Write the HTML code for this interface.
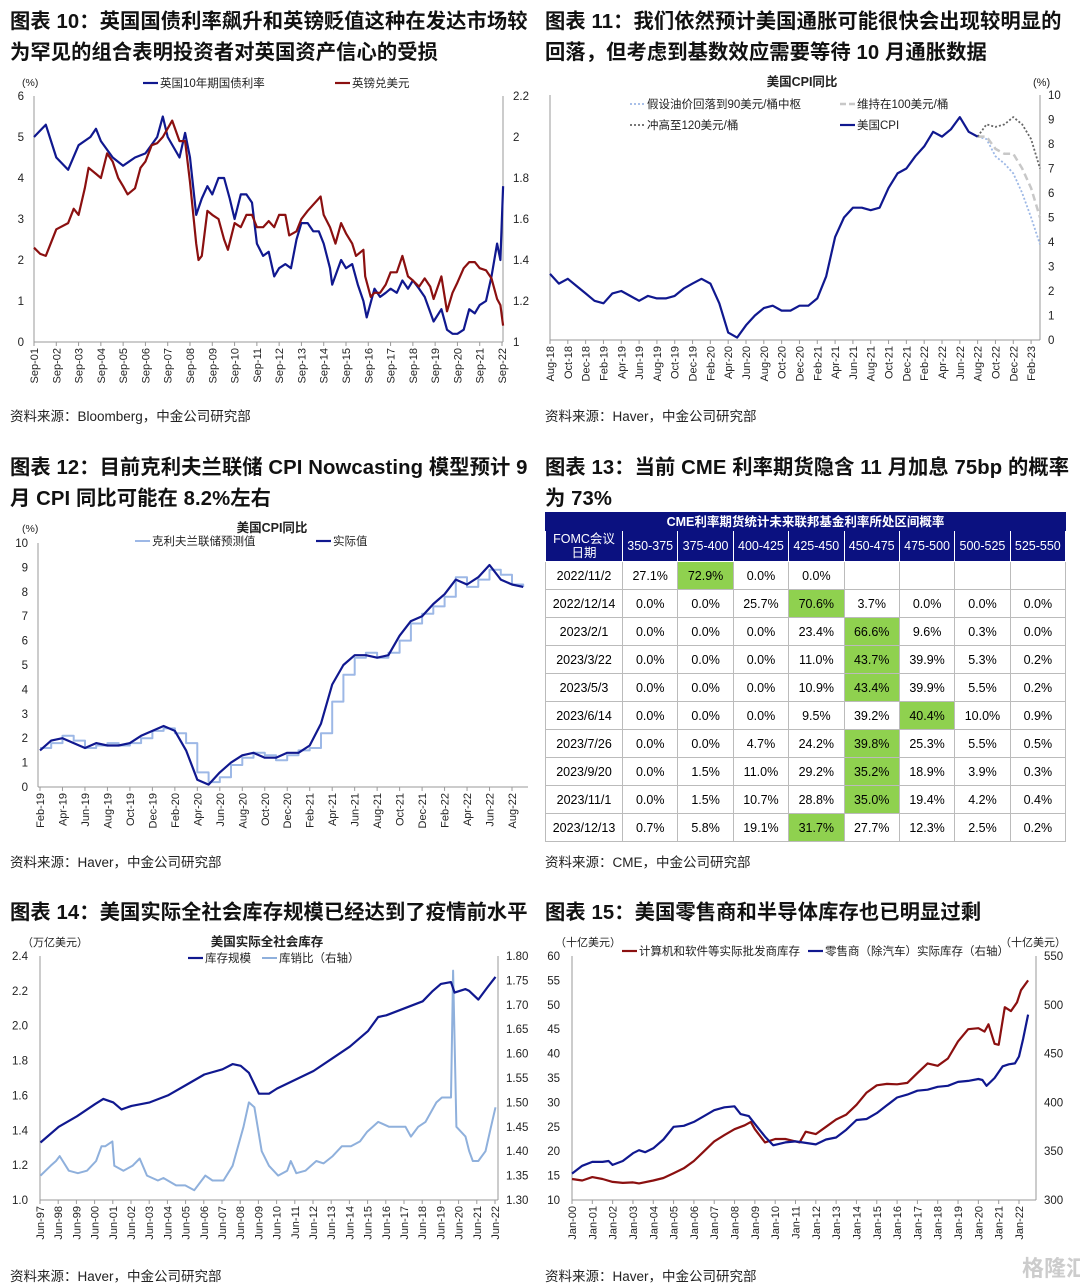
<!DOCTYPE html>
<html><head><meta charset="utf-8">
<style>
body{margin:0;background:#fff;width:1080px;height:1288px;overflow:hidden;position:relative;font-family:"Liberation Sans","Noto Sans CJK SC",sans-serif;}
.t{position:absolute;font-weight:bold;font-size:20.3px;color:#111;white-space:nowrap;letter-spacing:0.1px}
.src{position:absolute;font-size:13.5px;color:#222;white-space:nowrap}
svg{position:absolute;left:0;top:0}
svg text{font-family:"Liberation Sans","Noto Sans CJK SC",sans-serif;fill:#222}
table{position:absolute;left:545px;top:512px;width:521px;border-collapse:collapse;font-size:12.5px;text-align:center}
td,th{border:1px solid #bbb;padding:0;height:27px;line-height:14px}
th{background:#0b1180;color:#fff;font-weight:normal;border-color:#fff}
th.h0{height:17px;font-weight:bold;font-size:12.5px;border:1px solid #0b1180}
td.g{background:#8fd14f}
</style></head><body>
<div class="t" style="left:10px;top:4px">图表 10：英国国债利率飙升和英镑贬值这种在发达市场较</div>
<div class="t" style="left:10px;top:35px">为罕见的组合表明投资者对英国资产信心的受损</div>
<div class="t" style="left:545px;top:4px">图表 11：我们依然预计美国通胀可能很快会出现较明显的</div>
<div class="t" style="left:545px;top:35px">回落，但考虑到基数效应需要等待 10 月通胀数据</div>
<div class="t" style="left:10px;top:450px">图表 12：目前克利夫兰联储 CPI Nowcasting 模型预计 9</div>
<div class="t" style="left:10px;top:481px">月 CPI 同比可能在 8.2%左右</div>
<div class="t" style="left:545px;top:450px">图表 13：当前 CME 利率期货隐含 11 月加息 75bp 的概率</div>
<div class="t" style="left:545px;top:481px">为 73%</div>
<div class="t" style="left:10px;top:895px">图表 14：美国实际全社会库存规模已经达到了疫情前水平</div>
<div class="t" style="left:545px;top:895px">图表 15：美国零售商和半导体库存也已明显过剩</div>
<div class="src" style="left:10px;top:405px">资料来源：Bloomberg，中金公司研究部</div>
<div class="src" style="left:545px;top:405px">资料来源：Haver，中金公司研究部</div>
<div class="src" style="left:10px;top:851px">资料来源：Haver，中金公司研究部</div>
<div class="src" style="left:545px;top:851px">资料来源：CME，中金公司研究部</div>
<div class="src" style="left:10px;top:1265px">资料来源：Haver，中金公司研究部</div>
<div class="src" style="left:545px;top:1265px">资料来源：Haver，中金公司研究部</div>

<table>
<tr><th class="h0" colspan="9">CME利率期货统计未来联邦基金利率所处区间概率</th></tr>
<tr><th style="height:30px;width:76px">FOMC会议<br>日期</th><th>350-375</th><th>375-400</th><th>400-425</th><th>425-450</th><th>450-475</th><th>475-500</th><th>500-525</th><th>525-550</th></tr>
<tr><td>2022/11/2</td><td>27.1%</td><td class="g">72.9%</td><td>0.0%</td><td>0.0%</td><td></td><td></td><td></td><td></td></tr>
<tr><td>2022/12/14</td><td>0.0%</td><td>0.0%</td><td>25.7%</td><td class="g">70.6%</td><td>3.7%</td><td>0.0%</td><td>0.0%</td><td>0.0%</td></tr>
<tr><td>2023/2/1</td><td>0.0%</td><td>0.0%</td><td>0.0%</td><td>23.4%</td><td class="g">66.6%</td><td>9.6%</td><td>0.3%</td><td>0.0%</td></tr>
<tr><td>2023/3/22</td><td>0.0%</td><td>0.0%</td><td>0.0%</td><td>11.0%</td><td class="g">43.7%</td><td>39.9%</td><td>5.3%</td><td>0.2%</td></tr>
<tr><td>2023/5/3</td><td>0.0%</td><td>0.0%</td><td>0.0%</td><td>10.9%</td><td class="g">43.4%</td><td>39.9%</td><td>5.5%</td><td>0.2%</td></tr>
<tr><td>2023/6/14</td><td>0.0%</td><td>0.0%</td><td>0.0%</td><td>9.5%</td><td>39.2%</td><td class="g">40.4%</td><td>10.0%</td><td>0.9%</td></tr>
<tr><td>2023/7/26</td><td>0.0%</td><td>0.0%</td><td>4.7%</td><td>24.2%</td><td class="g">39.8%</td><td>25.3%</td><td>5.5%</td><td>0.5%</td></tr>
<tr><td>2023/9/20</td><td>0.0%</td><td>1.5%</td><td>11.0%</td><td>29.2%</td><td class="g">35.2%</td><td>18.9%</td><td>3.9%</td><td>0.3%</td></tr>
<tr><td>2023/11/1</td><td>0.0%</td><td>1.5%</td><td>10.7%</td><td>28.8%</td><td class="g">35.0%</td><td>19.4%</td><td>4.2%</td><td>0.4%</td></tr>
<tr><td>2023/12/13</td><td>0.7%</td><td>5.8%</td><td>19.1%</td><td class="g">31.7%</td><td>27.7%</td><td>12.3%</td><td>2.5%</td><td>0.2%</td></tr>
</table>

<svg id="s" width="1080" height="1288"></svg>

<script>
// ---------- Fig10 data ----------
const ukT=[2001.67,2002.2,2002.67,2003.2,2003.67,2004.2,2004.45,2004.67,2005.2,2005.67,2006.2,2006.67,2007.2,2007.45,2007.67,2008.2,2008.45,2008.67,2008.95,2009.2,2009.45,2009.67,2009.95,2010.2,2010.45,2010.67,2010.95,2011.2,2011.45,2011.67,2011.95,2012.2,2012.45,2012.67,2012.95,2013.2,2013.45,2013.67,2013.95,2014.2,2014.45,2014.67,2014.95,2015.05,2015.45,2015.67,2015.95,2016.2,2016.45,2016.6,2016.95,2017.2,2017.45,2017.67,2017.95,2018.2,2018.45,2018.67,2018.95,2019.2,2019.6,2019.95,2020.2,2020.45,2020.67,2020.95,2021.2,2021.45,2021.67,2021.95,2022.2,2022.45,2022.6,2022.72];
const ukYield=[5.0,5.3,4.5,4.2,4.8,5.0,5.2,4.9,4.5,4.3,4.5,4.6,5.0,5.5,5.0,4.5,5.1,4.5,3.1,3.5,3.8,3.6,4.0,4.0,3.5,3.0,3.6,3.6,3.4,2.4,2.1,2.2,1.6,1.8,1.9,1.8,2.5,2.9,2.9,2.7,2.7,2.4,1.8,1.4,2.0,1.8,1.9,1.4,1.0,0.6,1.3,1.1,1.2,1.3,1.2,1.5,1.3,1.5,1.3,1.1,0.5,0.8,0.3,0.2,0.2,0.3,0.8,0.7,0.9,1.0,1.6,2.4,2.0,3.8];
const gbpT=[2001.67,2001.95,2002.2,2002.67,2003.2,2003.45,2003.67,2003.95,2004.12,2004.45,2004.67,2004.95,2005.2,2005.45,2005.67,2005.87,2006.2,2006.45,2006.67,2006.95,2007.2,2007.45,2007.87,2008.2,2008.45,2008.67,2008.95,2009.05,2009.2,2009.45,2009.67,2009.95,2010.2,2010.37,2010.67,2010.95,2011.2,2011.45,2011.67,2011.95,2012.2,2012.45,2012.67,2012.95,2013.12,2013.45,2013.67,2013.95,2014.53,2014.67,2014.95,2015.2,2015.45,2015.67,2015.95,2016.12,2016.45,2016.53,2016.78,2016.95,2017.2,2017.45,2017.67,2017.95,2018.2,2018.45,2018.67,2018.95,2019.2,2019.45,2019.6,2019.95,2020.2,2020.45,2020.67,2020.95,2021.2,2021.45,2021.67,2021.95,2022.2,2022.45,2022.6,2022.72];
const gbpUsd=[1.46,1.43,1.42,1.55,1.58,1.65,1.62,1.75,1.85,1.82,1.80,1.92,1.88,1.80,1.76,1.72,1.75,1.85,1.88,1.96,1.97,2.0,2.08,1.98,1.98,1.78,1.48,1.40,1.42,1.64,1.62,1.60,1.50,1.45,1.58,1.56,1.62,1.62,1.56,1.56,1.59,1.56,1.62,1.62,1.52,1.54,1.60,1.64,1.71,1.62,1.56,1.48,1.58,1.53,1.48,1.42,1.45,1.32,1.22,1.24,1.24,1.28,1.34,1.34,1.42,1.32,1.30,1.27,1.31,1.27,1.21,1.32,1.15,1.24,1.29,1.36,1.39,1.39,1.36,1.35,1.31,1.21,1.18,1.08];
const fig10Left=[0,1,2,3,4,5,6];
const fig10Right=["1","1.2","1.4","1.6","1.8","2","2.2"];

// ---------- Fig11 data (monthly from Aug-18) ----------
const cpiActual=[2.7,2.3,2.5,2.2,1.9,1.6,1.5,1.9,2.0,1.8,1.6,1.8,1.7,1.7,1.8,2.1,2.3,2.5,2.3,1.5,0.3,0.1,0.6,1.0,1.3,1.4,1.2,1.2,1.4,1.4,1.7,2.6,4.2,5.0,5.4,5.4,5.3,5.4,6.2,6.8,7.0,7.5,7.9,8.5,8.3,8.6,9.1,8.5,8.3];
const scen90=[8.3,8.2,7.5,7.2,6.8,6.0,5.0,3.9];
const scen100=[8.3,8.3,7.8,7.6,7.6,7.0,6.2,5.0];
const scen120=[8.3,8.8,8.7,8.8,9.1,8.8,8.2,7.0];
const fig11Months=["Aug-18","Oct-18","Dec-18","Feb-19","Apr-19","Jun-19","Aug-19","Oct-19","Dec-19","Feb-20","Apr-20","Jun-20","Aug-20","Oct-20","Dec-20","Feb-21","Apr-21","Jun-21","Aug-21","Oct-21","Dec-21","Feb-22","Apr-22","Jun-22","Aug-22","Oct-22","Dec-22","Feb-23"];

// ---------- Fig12 data (monthly from Feb-19) ----------
const cpiReal12=[1.5,1.9,2.0,1.8,1.6,1.8,1.7,1.7,1.8,2.1,2.3,2.5,2.3,1.5,0.3,0.1,0.6,1.0,1.3,1.4,1.2,1.2,1.4,1.4,1.7,2.6,4.2,5.0,5.4,5.4,5.3,5.4,6.2,6.8,7.0,7.5,7.9,8.5,8.3,8.6,9.1,8.5,8.3,8.2];
const cpiNowcast=[1.6,1.8,2.1,1.9,1.6,1.7,1.8,1.7,1.8,2.0,2.3,2.4,2.2,1.8,0.6,0.2,0.4,0.9,1.2,1.4,1.3,1.1,1.3,1.5,1.6,2.2,3.5,4.6,5.3,5.5,5.3,5.5,6.0,6.7,7.1,7.4,7.8,8.6,8.2,8.5,8.9,8.7,8.3,8.2];
const fig12Months=["Feb-19","Apr-19","Jun-19","Aug-19","Oct-19","Dec-19","Feb-20","Apr-20","Jun-20","Aug-20","Oct-20","Dec-20","Feb-21","Apr-21","Jun-21","Aug-21","Oct-21","Dec-21","Feb-22","Apr-22","Jun-22","Aug-22"];

// ---------- Fig14 data ----------
const invT=[1997.45,1998.45,1999.45,2000.45,2000.9,2001.45,2001.9,2002.45,2003.45,2004.45,2005.45,2006.45,2007.45,2008.0,2008.45,2008.9,2009.45,2010.0,2010.45,2011.45,2012.45,2013.45,2014.45,2015.45,2016.0,2016.45,2017.45,2018.45,2019.0,2019.45,2020.0,2020.2,2020.8,2021.0,2021.5,2022.0,2022.45];
const invLevel=[1.33,1.42,1.48,1.55,1.58,1.56,1.52,1.54,1.56,1.60,1.66,1.72,1.75,1.78,1.77,1.73,1.61,1.61,1.64,1.69,1.74,1.81,1.88,1.97,2.05,2.06,2.10,2.14,2.20,2.24,2.25,2.19,2.21,2.20,2.15,2.22,2.28];
const ratioT=[1997.45,1998.0,1998.3,1998.5,1999.0,1999.5,2000.0,2000.5,2000.8,2001.0,2001.4,2001.5,2002.0,2002.5,2002.9,2003.3,2003.9,2004.2,2004.9,2005.4,2005.9,2006.5,2006.9,2007.5,2008.0,2008.6,2008.9,2009.2,2009.6,2010.0,2010.5,2011.0,2011.2,2011.5,2012.0,2012.6,2013.0,2013.5,2014.0,2014.5,2015.0,2015.4,2016.0,2016.6,2017.5,2017.8,2018.2,2018.6,2019.2,2019.5,2020.0,2020.12,2020.3,2020.8,2021.0,2021.2,2021.5,2021.9,2022.2,2022.45];
const invRatio=[1.35,1.37,1.38,1.39,1.36,1.355,1.36,1.38,1.41,1.41,1.42,1.37,1.36,1.37,1.385,1.35,1.34,1.345,1.33,1.33,1.32,1.35,1.34,1.34,1.37,1.45,1.50,1.49,1.40,1.37,1.35,1.36,1.38,1.355,1.36,1.38,1.375,1.39,1.41,1.41,1.42,1.44,1.46,1.45,1.45,1.43,1.45,1.46,1.50,1.51,1.51,1.77,1.45,1.43,1.40,1.38,1.38,1.40,1.45,1.49];
const fig14Left=["1.0","1.2","1.4","1.6","1.8","2.0","2.2","2.4"];
const fig14Right=["1.30","1.35","1.40","1.45","1.50","1.55","1.60","1.65","1.70","1.75","1.80"];

// ---------- Fig15 data ----------
const compT=[2000.0,2000.5,2001.0,2001.5,2002.0,2002.5,2003.0,2003.3,2004.0,2004.5,2005.0,2005.5,2006.0,2006.5,2007.0,2007.5,2008.0,2008.5,2008.8,2009.0,2009.5,2010.0,2010.5,2011.0,2011.2,2011.5,2012.0,2012.5,2013.0,2013.5,2014.0,2014.5,2015.0,2015.5,2016.0,2016.5,2017.0,2017.5,2018.0,2018.5,2019.0,2019.5,2020.0,2020.3,2020.5,2020.8,2021.0,2021.3,2021.6,2021.9,2022.1,2022.45];
const compInv=[14.3,14.0,14.7,14.3,13.7,13.5,13.6,13.4,14.0,14.5,15.5,16.5,18.0,20.0,22.0,23.3,24.5,25.3,26.0,24.5,21.8,22.5,22.5,22.0,21.8,24.0,23.5,25.0,26.5,27.5,29.5,32.0,33.5,33.8,33.7,34.0,36.0,38.0,37.5,39.0,42.5,45.0,45.2,44.5,46.0,42.0,41.8,49.5,48.7,50.5,53.0,55.0];
const retT=[2000.0,2000.5,2001.0,2001.5,2001.8,2002.0,2002.5,2003.0,2003.3,2003.6,2004.0,2004.5,2005.0,2005.5,2006.0,2006.5,2007.0,2007.5,2008.0,2008.3,2008.7,2009.0,2009.5,2009.9,2010.5,2011.0,2012.0,2012.5,2013.0,2013.5,2014.0,2014.5,2015.0,2015.5,2016.0,2016.5,2017.0,2017.5,2018.0,2018.5,2019.0,2019.5,2020.0,2020.2,2020.4,2020.8,2021.2,2021.5,2021.8,2022.0,2022.2,2022.45];
const retInv=[327,335,339,339,340,336,340,348,351,349,353,362,375,376,380,386,392,395,396,388,386,378,365,356,359,360,357,362,364,372,382,383,389,397,405,408,412,413,416,417,421,422,424,423,417,425,437,439,440,447,465,490];
const fig15Left=[10,15,20,25,30,35,40,45,50,55,60];
const fig15Right=[300,350,400,450,500,550];

// ---------- helpers ----------
const S=document.getElementById('s');
const NS='http://www.w3.org/2000/svg';
function el(tag,attrs,txt){const e=document.createElementNS(NS,tag);for(const k in attrs)e.setAttribute(k,attrs[k]);if(txt!==undefined)e.textContent=txt;S.appendChild(e);return e;}
function lin(d0,d1,r0,r1){return v=>r0+(v-d0)/(d1-d0)*(r1-r0);}
function pathD(xs,ys,fx,fy,step){let d='';for(let i=0;i<xs.length;i++){const X=fx(xs[i]).toFixed(1),Y=fy(ys[i]).toFixed(1);if(i===0)d+='M'+X+','+Y;else if(step){d+='H'+X+'V'+Y;}else d+='L'+X+','+Y;}return d;}
function addLine(name,xs,ys,fx,fy,stroke,w,dash,step){const p=el('path',{d:pathD(xs,ys,fx,fy,step),fill:'none',stroke:stroke,'stroke-width':w,'stroke-linejoin':'round'});if(dash)p.setAttribute('stroke-dasharray',dash);


return p;}
function axisFrame(x0,x1,y0,y1,right){el('line',{x1:x0,y1:y0,x2:x0,y2:y1,stroke:'#999','stroke-width':1});el('line',{x1:x0,y1:y1,x2:x1,y2:y1,stroke:'#999','stroke-width':1});if(right)el('line',{x1:x1,y1:y0,x2:x1,y2:y1,stroke:'#999','stroke-width':1});}
function xLabel(x,y,s){const t=el('text',{transform:'translate('+(x+4)+','+y+') rotate(-90)','text-anchor':'end','font-size':11},s);


el('line',{x1:x,y1:y-6,x2:x,y2:y-2,stroke:'#999'});}
function yLabel(x,y,s,anchor){const t=el('text',{x:x,y:y+4,'text-anchor':anchor,'font-size':11.5},s);

}
function legend(x,y,color,w,dash,label){const l=el('line',{x1:x,y1:y,x2:x+15,y2:y,stroke:color,'stroke-width':w});if(dash)l.setAttribute('stroke-dasharray',dash);


const t=el('text',{x:x+17,y:y+4,'font-size':11.5},label);

}
function plain(x,y,s,size,bold,anchor){const t=el('text',{x:x,y:y,'font-size':size||11.5,'font-weight':bold?'bold':'normal','text-anchor':anchor||'start'},s);

}

// ---------- Fig10 ----------
(function(){const x0=34,x1=502,yT=96,yB=342;
const fx=lin(2001.67,2022.67,x0,x1),fy=lin(0,6,yB,yT),fy2=lin(1,2.2,yB,yT);
axisFrame(x0,x1+1,yT,yB,true);
fig10Left.forEach(v=>yLabel(x0-10,fy(v),String(v),'end'));
fig10Right.forEach(v=>yLabel(x1+11,fy2(+v),v,'start'));
for(let y=2001;y<=2022;y++)xLabel(fx(y+0.67),yB+6,'Sep-'+String(y).slice(2));
addLine('uk-10y-yield-line',ukT,ukYield,fx,fy,'#10188f',2.2);
addLine('gbp-usd-line',gbpT,gbpUsd,fx,fy2,'#8b1010',2.2);
plain(22,86,'(%)',10.5);
legend(143,83,'#10188f',2.2,null,'英国10年期国债利率');
legend(335,83,'#8b1010',2.2,null,'英镑兑美元');})();

// ---------- Fig11 ----------
(function(){const x0=550,x1=1040,yT=95,yB=340;
const fx=lin(0,55,x0,x1),fy=lin(0,10,yB,yT);
axisFrame(x0,x1,yT,yB,true);
for(let v=0;v<=10;v++)yLabel(x1+8,fy(v),String(v),'start');
fig11Months.forEach((m,i)=>xLabel(fx(i*2),yB+6,m));
const idx=cpiActual.map((v,i)=>i);
const sIdx=scen90.map((v,i)=>i+48);
addLine('scenario-90-line',sIdx,scen90,fx,fy,'#9db8e6',1.8,'2,2');
addLine('scenario-100-line',sIdx,scen100,fx,fy,'#c8c8c8',2.5,'7,4');
addLine('scenario-120-line',sIdx,scen120,fx,fy,'#666',1.8,'2,2');
addLine('us-cpi-line',idx,cpiActual,fx,fy,'#10188f',2.2);
plain(802,86,'美国CPI同比',12.5,true,'middle');
plain(1033,86,'(%)',11);
legend(630,104,'#9db8e6',1.8,'2,2','假设油价回落到90美元/桶中枢');
legend(840,104,'#c8c8c8',2.5,'6,3','维持在100美元/桶');
legend(630,125,'#666',1.8,'2,2','冲高至120美元/桶');
legend(840,125,'#10188f',2.2,null,'美国CPI');})();

// ---------- Fig12 ----------
(function(){const x0=38,x1=528,yT=543,yB=787;
const fx=lin(0,42,40,512),fy=lin(0,10,yB,yT);
axisFrame(x0,x1,yT,yB,false);
for(let v=0;v<=10;v++)yLabel(28,fy(v),String(v),'end');
fig12Months.forEach((m,i)=>xLabel(fx(i*2),yB+6,m));
const idx=cpiReal12.map((v,i)=>i);
addLine('cleveland-nowcast-line',idx,cpiNowcast,fx,fy,'#9db8e6',2,null,true);
addLine('actual-cpi-line',idx,cpiReal12,fx,fy,'#10188f',2.2);
plain(272,532,'美国CPI同比',12.5,true,'middle');
plain(22,532,'(%)',10.5);
legend(135,541,'#9db8e6',2,null,'克利夫兰联储预测值');
legend(316,541,'#10188f',2.2,null,'实际值');})();

// ---------- Fig14 ----------
(function(){const x0=40,x1=498,yT=956,yB=1200;
const fx=lin(1997.42,2022.42,40,495),fy=lin(1.0,2.4,yB,yT),fy2=lin(1.3,1.8,yB,yT);
axisFrame(x0,x1,yT,yB,true);
fig14Left.forEach(v=>yLabel(28,fy(+v),v,'end'));
fig14Right.forEach(v=>yLabel(x1+8,fy2(+v),v,'start'));
for(let y=1997;y<=2022;y++)xLabel(fx(y+0.42),yB+6,'Jun-'+String(y).slice(2));
addLine('inventory-ratio-line',ratioT,invRatio,fx,fy2,'#8fb0dc',2);
addLine('inventory-level-line',invT,invLevel,fx,fy,'#10188f',2.2);
plain(267,946,'美国实际全社会库存',12.5,true,'middle');
plain(22,946,'（万亿美元）',11);
legend(188,958,'#10188f',2.2,null,'库存规模');
legend(262,958,'#8fb0dc',2,null,'库销比（右轴）');})();

// ---------- Fig15 ----------
(function(){const x0=572,x1=1036,yT=956,yB=1200;
const fx=lin(2000,2022,572,1019),fy=lin(10,60,yB,yT),fy2=lin(300,550,yB,yT);
axisFrame(x0,x1,yT,yB,true);
fig15Left.forEach(v=>yLabel(560,fy(v),String(v),'end'));
fig15Right.forEach(v=>yLabel(x1+8,fy2(v),String(v),'start'));
for(let y=2000;y<=2022;y++)xLabel(fx(y),yB+6,'Jan-'+String(y).slice(2));
addLine('computer-software-inventory-line',compT,compInv,fx,fy,'#8b1010',2.2);
addLine('retail-inventory-line',retT,retInv,fx,fy2,'#10188f',2.2);
plain(555,946,'（十亿美元）',11);
plain(1000,946,'（十亿美元）',11);
legend(622,951,'#8b1010',2.2,null,'计算机和软件等实际批发商库存');
legend(808,951,'#10188f',2.2,null,'零售商（除汽车）实际库存（右轴）');
plain(1022,1276,'格隆汇',22,true,'start');
S.lastChild.setAttribute('style','fill:#ccc');})();
</script>
</body></html>
